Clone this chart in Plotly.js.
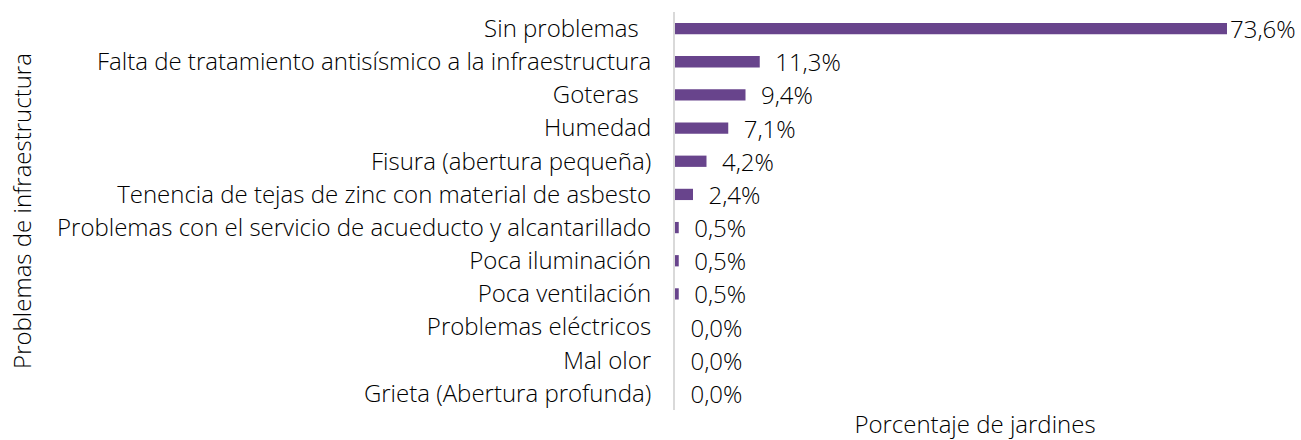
<!DOCTYPE html>
<html>
<head>
<meta charset="utf-8">
<script src="https://cdn.plot.ly/plotly-3.0.1.min.js"></script>
<style>html,body{margin:0;padding:0;background:#fff;}#chart{width:1301px;height:440px;}</style>
</head>
<body>
<div id="chart"></div>
<script>
const categories = [
  "Sin problemas\u00a0\u00a0",
  "Falta de tratamiento antisísmico a la infraestructura",
  "Goteras\u00a0\u00a0",
  "Humedad",
  "Fisura (abertura pequeña)",
  "Tenencia de tejas de zinc con material de asbesto",
  "Problemas con el servicio de acueducto y alcantarillado",
  "Poca iluminación",
  "Poca ventilación",
  "Problemas eléctricos",
  "Mal olor",
  "Grieta (Abertura profunda)"
];
const values = [73.6, 11.3, 9.4, 7.1, 4.2, 2.4, 0.5, 0.5, 0.5, 0.0, 0.0, 0.0];
const labels = values.map((v, i) => (i === 0 ? "" : "\u00a0\u00a0") + v.toFixed(1).replace(".", ",") + "%");

const FONT = "'Open Sans', sans-serif";
const FS = 24;

Plotly.newPlot("chart", [{
  type: "bar",
  orientation: "h",
  y: categories,
  x: values,
  text: labels,
  textposition: "outside",
  constraintext: "none",
  cliponaxis: false,
  textfont: {family: FONT, size: FS, color: "#000", weight: 300},
  marker: {color: "#68448C"},
  width: 0.34,
  hoverinfo: "none"
}], {
  width: 1301,
  height: 440,
  margin: {l: 675, r: 26, t: 12, b: 30},
  paper_bgcolor: "#fff",
  plot_bgcolor: "#fff",
  showlegend: false,
  font: {family: FONT, size: FS, color: "#000", weight: 300},
  xaxis: {
    range: [0, 80],
    showgrid: false,
    zeroline: false,
    showline: false,
    showticklabels: false,
    ticks: "",
    title: {text: "Porcentaje de jardines", font: {family: FONT, size: FS, color: "#000", weight: 300}, standoff: 14}
  },
  yaxis: {
    autorange: "reversed",
    showgrid: false,
    zeroline: false,
    showline: true,
    linecolor: "#D9D9D9",
    linewidth: 2,
    ticks: "",
    ticklabelstandoff: 17,
    tickfont: {family: FONT, size: FS, color: "#000", weight: 300},
    title: {text: "Problemas de infraestructura", font: {family: FONT, size: FS, color: "#000", weight: 300}, standoff: 19}
  }
}, {displayModeBar: false, staticPlot: true});
</script>
</body>
</html>
